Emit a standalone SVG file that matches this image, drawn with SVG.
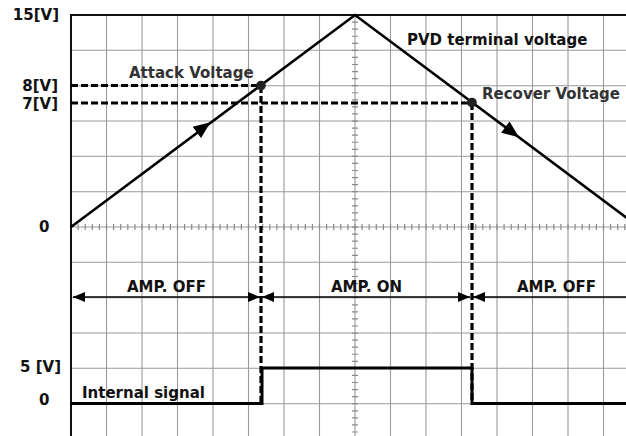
<svg xmlns="http://www.w3.org/2000/svg" width="626" height="436" viewBox="0 0 626 436">
<style>
  .grid { stroke: #9a9a9a; stroke-width: 1.1; fill: none; }
  .tick { stroke: #8a8a8a; stroke-width: 6; fill: none; }
  .axis { stroke: #111; stroke-width: 2; fill: none; }
  .wave { stroke: #000; stroke-width: 2.6; fill: none; stroke-linejoin: miter; }
  .sig { stroke: #000; stroke-width: 3; fill: none; }
  .dash { stroke: #000; stroke-width: 3.2; fill: none; stroke-dasharray: 7 3; }
  .span { stroke: #000; stroke-width: 1.6; fill: none; marker-start: url(#ah); marker-end: url(#ah); }
  text { font-family: "DejaVu Sans", Verdana, sans-serif; font-weight: bold; font-size: 15px; fill: #111; }
  .note { fill: #333; }
</style>
<defs>
  <marker id="ah" viewBox="0 0 12 10" refX="12" refY="5" markerWidth="12" markerHeight="10" markerUnits="userSpaceOnUse" orient="auto-start-reverse">
    <path d="M0,0 L12,5 L0,10 Z" fill="#000"/>
  </marker>
  <path id="tri" d="M0,0 L-17,-7 L-17,7 Z" fill="#000"/>
</defs>
<rect width="626" height="436" fill="#fff"/>
<g id="grid">
  <path class="grid" d="M106.5,15V436 M142,15V436 M177.5,15V436 M213,15V436 M248.5,15V436 M284,15V436 M319.5,15V436 M355,15V436 M390.5,15V436 M426,15V436 M461.5,15V436 M497,15V436 M532.5,15V436 M568,15V436 M603.5,15V436"/>
  <path class="grid" d="M71,50.3H626 M71,85.7H626 M71,121H626 M71,156.3H626 M71,191.7H626 M71,227H626 M71,262.3H626 M71,297.7H626 M71,333H626 M71,368.3H626 M71,403.7H626"/>
  <line class="tick" x1="71" y1="227" x2="626" y2="227" stroke-dasharray="1.2 5.9" stroke-dashoffset="-6.5"/>
  <line class="tick" x1="355" y1="15" x2="355" y2="436" stroke-dasharray="1.2 5.867" stroke-dashoffset="-6.5"/>
</g>
<g id="axes">
  <line class="axis" x1="71" y1="15" x2="626" y2="15"/>
  <line class="axis" x1="71" y1="14" x2="71" y2="436"/>
</g>
<g id="labels">
  <text x="59" y="20" text-anchor="end">15[V]</text>
  <text x="58" y="91" text-anchor="end">8[V]</text>
  <text x="58" y="109" text-anchor="end">7[V]</text>
  <text x="39" y="232">0</text>
  <text x="61" y="372" text-anchor="end">5 [V]</text>
  <text x="39" y="405">0</text>
</g>
<g id="connectors">
  <line class="dash" x1="71" y1="85.5" x2="261" y2="85.5"/>
  <line class="dash" x1="71" y1="103" x2="472" y2="103"/>
  <line class="dash" x1="261" y1="86" x2="261" y2="403"/>
  <line class="dash" x1="472" y1="103" x2="472" y2="403"/>
  <line class="span" x1="73" y1="297" x2="260" y2="297"/>
  <line class="span" x1="262" y1="297" x2="470" y2="297"/>
  <line class="span" x1="473" y1="297" x2="640" y2="297"/>
</g>
<g id="pvd-voltage">
  <path class="wave" d="M71,227 L355,15 L639,227"/>
  <use href="#tri" transform="translate(210.5,122.2) rotate(-36.7)"/>
  <use href="#tri" transform="translate(519,137.3) rotate(36.7)"/>
  <text x="407" y="45">PVD terminal voltage</text>
</g>
<g id="attack-point">
  <circle cx="261" cy="85.5" r="4.8" fill="#222"/>
  <text class="note" x="129" y="78">Attack Voltage</text>
</g>
<g id="recover-point">
  <circle cx="472" cy="102.5" r="4.8" fill="#222"/>
  <text class="note" x="482" y="99">Recover Voltage</text>
</g>
<g id="amp-off-1"><text x="127" y="292">AMP. OFF</text></g>
<g id="amp-on"><text x="331" y="292">AMP. ON</text></g>
<g id="amp-off-2"><text x="517" y="292">AMP. OFF</text></g>
<g id="internal-signal">
  <path class="sig" d="M71,403.5 H262 V368 H472 V403.5 H626"/>
  <text x="82" y="398">Internal signal</text>
</g>
</svg>
